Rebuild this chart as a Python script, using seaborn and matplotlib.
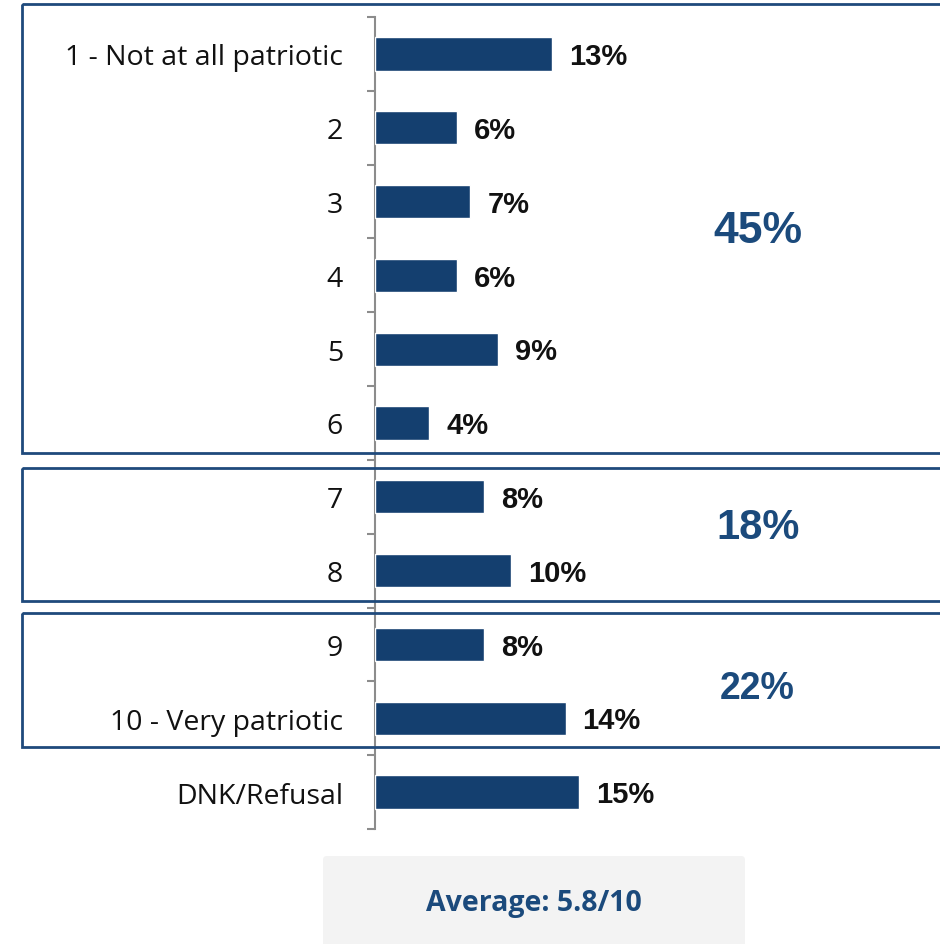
import matplotlib
matplotlib.use("Agg")
import matplotlib.pyplot as plt
import matplotlib.transforms as mtransforms
from matplotlib.patches import Rectangle, FancyBboxPatch
import pandas as pd
import seaborn as sns

categories = ["1 - Not at all patriotic", "2", "3", "4", "5", "6", "7", "8", "9",
              "10 - Very patriotic", "DNK/Refusal"]
values = [13, 6, 7, 6, 9, 4, 8, 10, 8, 14, 15]
group_labels = ["45%", "18%", "22%"]
average_text = "Average: 5.8/10"

bar_color = "#143f6f"
box_color = "#1f4a7c"
label_color = "#1b4a7c"

sns.set_theme(style="white")
plt.rcParams["font.family"] = ["Liberation Sans", "DejaVu Sans"]

df = pd.DataFrame({"category": categories, "value": values})

fig = plt.figure(figsize=(9.4, 9.45), dpi=100)
ax = fig.add_axes([375 / 940, 115 / 945, 565 / 940, 812 / 945])

sns.barplot(data=df, y="category", x="value", orient="h", color=bar_color,
            width=0.45, saturation=1, ax=ax, zorder=3)

ax.set_xlim(0, 41.5)
ax.set_ylim(10.5, -0.5)
ax.set_xlabel("")
ax.set_ylabel("")
ax.set_xticks([])

for s in ["top", "right", "bottom"]:
    ax.spines[s].set_visible(False)
ax.spines["left"].set_color("#8c8c8c")
ax.spines["left"].set_linewidth(1.5)

ax.set_yticks(range(len(categories)))
ax.set_yticklabels(categories, fontsize=20.5, family=["Open Sans", "DejaVu Sans"], color="#111111")
ax.tick_params(axis="y", which="major", length=0, pad=23)
ax.set_yticks([i - 0.5 for i in range(len(categories) + 1)], minor=True)
ax.tick_params(axis="y", which="minor", length=6, width=1.5, color="#8c8c8c", left=True)

for i, v in enumerate(values):
    ax.text(v + 1.25, i + 0.03, f"{v}%", va="center", ha="left",
            fontsize=21, fontweight="bold", color="#111111")

# group boxes
trans = mtransforms.blended_transform_factory(fig.transFigure, ax.transData)
boxes = [(-0.676, 5.41), (5.61, 7.41), (7.57, 9.39)]
for top, bottom in boxes:
    r = Rectangle((22 / 940, top), 1.0, bottom - top, transform=trans, fill=False,
                  edgecolor=box_color, linewidth=2, clip_on=False, zorder=4)
    ax.add_patch(r)

group_pos = [2.39, 6.41, 8.59]
group_sizes = [32, 30, 27]
for lab, y, fs in zip(group_labels, group_pos, group_sizes):
    ax.text(28.1, y, lab, ha="center", va="center", fontsize=fs,
            fontweight="bold", color=label_color)

# average box
avg = FancyBboxPatch((323 / 940, -0.02), 422 / 940, 88 / 945 + 0.02,
                     boxstyle="round,pad=0,rounding_size=0.004",
                     transform=fig.transFigure, facecolor="#f3f3f3",
                     edgecolor="none", zorder=0)
fig.add_artist(avg)
fig.text(534 / 940, 1 - 904 / 945, average_text, ha="center", va="center",
         fontsize=20.5, fontweight="bold", color=label_color,
         family=["Open Sans", "DejaVu Sans"])

fig.savefig("out.png", dpi=100)
